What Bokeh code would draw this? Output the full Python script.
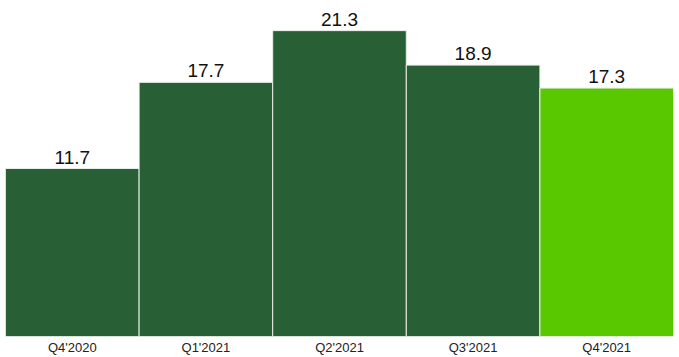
from bokeh.plotting import figure
from bokeh.models import ColumnDataSource, FactorRange, Range1d
from bokeh.core.properties import value
from bokeh.embed import file_html
from bokeh.resources import INLINE

quarters = ["Q4'2020", "Q1'2021", "Q2'2021", "Q3'2021", "Q4'2021"]
values = [11.7, 17.7, 21.3, 18.9, 17.3]
colors = ["#285f35", "#285f35", "#285f35", "#285f35", "#5ac800"]
labels = [f"{v:.1f}" for v in values]

src = ColumnDataSource(dict(x=quarters, top=values, color=colors, label=labels))

p = figure(width=679, height=357, x_range=FactorRange(*quarters, range_padding=0),
           y_range=Range1d(0, 23.4), output_backend="svg", toolbar_location=None,
           min_border_left=5, min_border_right=6, min_border_top=0, min_border_bottom=21)
p.vbar(x="x", top="top", width=1.0, bottom=0, fill_color="color", line_color="#e8efe8",
       line_width=1, source=src)
p.text(x="x", y="top", text="label", source=src, text_align="center", text_baseline="bottom",
       y_offset=-5, text_font=value("Liberation Sans"), text_font_size="19px", text_color="#111111")

p.xgrid.visible = False
p.ygrid.visible = False
p.yaxis.visible = False
p.outline_line_color = None
ax = p.xaxis[0]
ax.axis_line_color = None
ax.major_tick_line_color = None
ax.minor_tick_line_color = None
ax.major_tick_in = 0
ax.major_tick_out = 0
ax.major_label_standoff = 3
ax.major_label_text_font = "Liberation Sans"
ax.major_label_text_font_size = "13px"
ax.major_label_text_color = "#222222"

open("out.html", "w").write(file_html(p, INLINE))
